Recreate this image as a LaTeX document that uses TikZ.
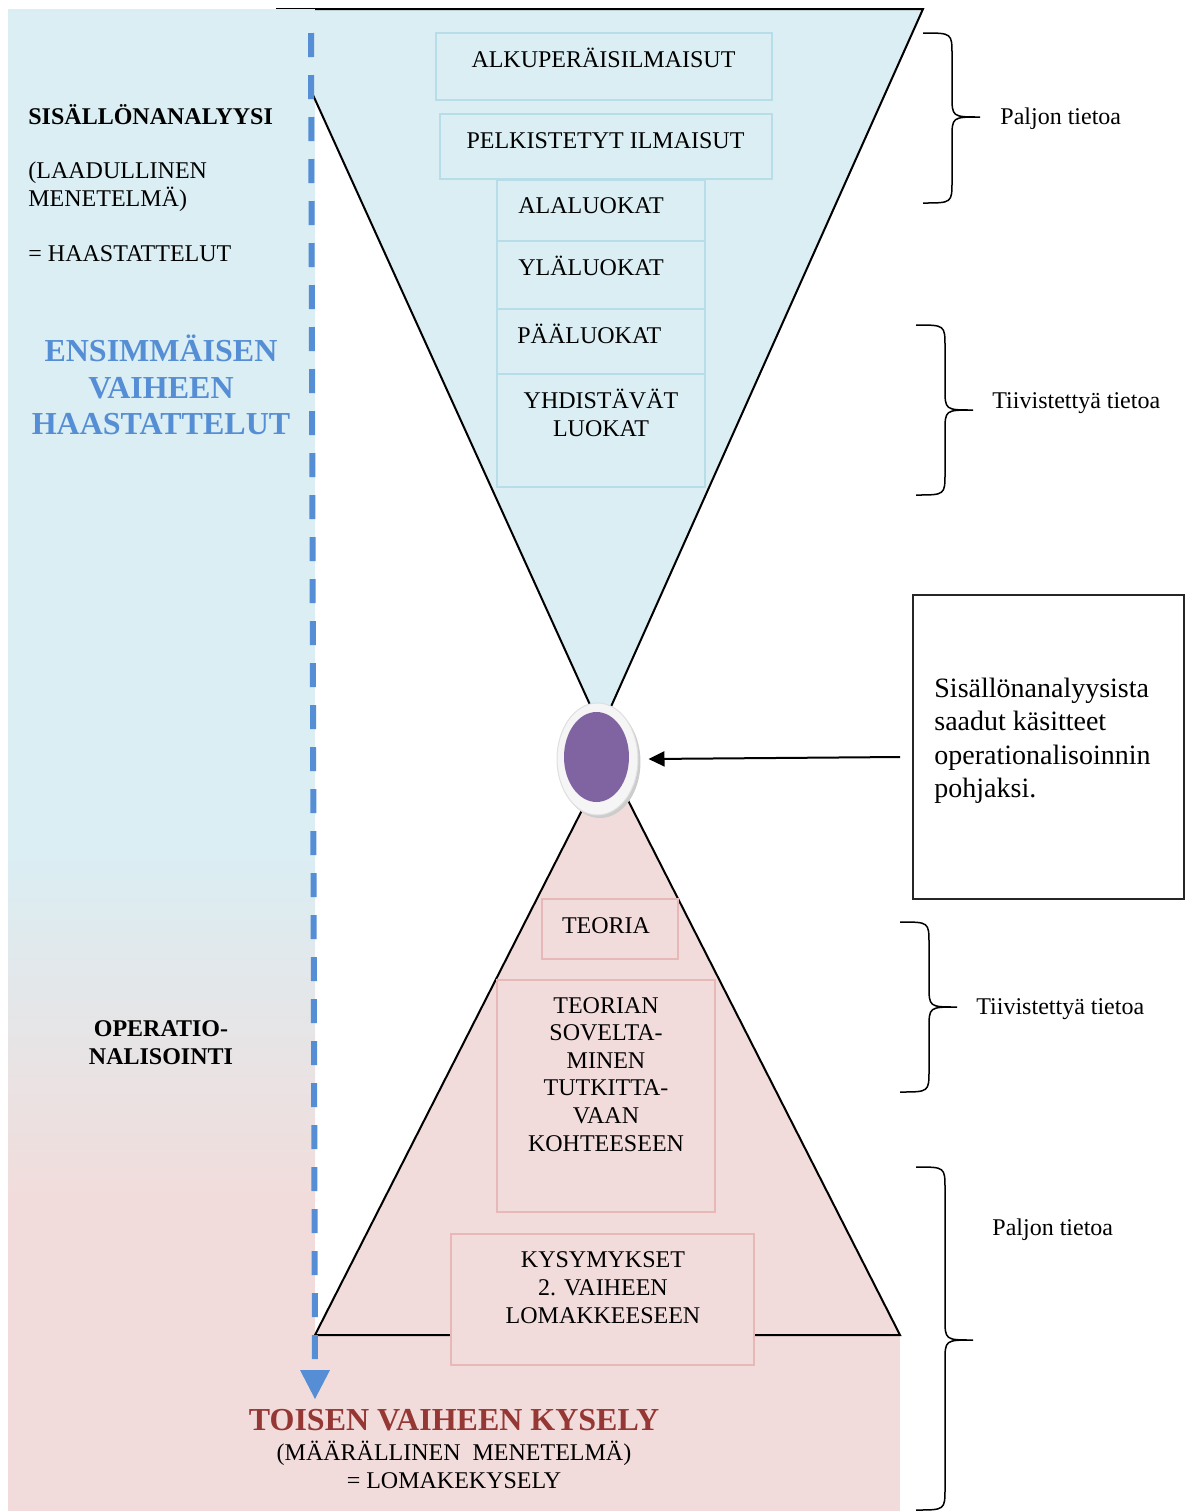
\documentclass[tikz,border=0pt]{standalone}
\usepackage{fontspec}
\setmainfont{Liberation Serif}
\usetikzlibrary{arrows.meta,shapes.geometric,fit}
\definecolor{panelblue}{HTML}{DAEEF3}
\definecolor{panelpink}{HTML}{F2DCDB}
\definecolor{boxblue}{HTML}{B7DDE8}
\definecolor{boxpink}{HTML}{E6B9B8}
\definecolor{dashblue}{HTML}{558ED5}
\definecolor{darkred}{HTML}{953735}
\definecolor{ovalpurple}{HTML}{8064A2}
\newcommand\mybrace[6]{% x0, xs, xt, top, mid, bottom
  \draw[bracestyle] (#1,#4) .. controls (#2,#4) .. (#2,#4+22) -- (#2,#5-22)
    .. controls (#2,#5) .. (#3,#5) .. controls (#2,#5) .. (#2,#5+22)
    -- (#2,#6-22) .. controls (#2,#6) .. (#1,#6);}
\begin{document}
\begin{tikzpicture}[x=0.5pt,y=-0.5pt,
  txt/.style={font=\fontsize{12}{13.8}\selectfont, inner sep=0pt},
  boldtxt/.style={font=\fontsize{12}{13.8}\selectfont\bfseries, inner sep=0pt},
  bigblue/.style={font=\fontsize{16}{18.25}\selectfont\bfseries, text=dashblue, inner sep=0pt},
  bigred/.style={font=\fontsize{16}{18.25}\selectfont\bfseries, text=darkred, inner sep=0pt},
  bbox/.style={draw=boxblue, line width=1pt, fill=panelblue, inner sep=0pt},
  pbox/.style={draw=boxpink, line width=1pt, fill=panelpink, inner sep=0pt},
  bracestyle/.style={line width=0.75pt},
  outline/.style={line width=1pt, line join=miter}]
\useasboundingbox (0,0) rectangle (1185,1511);
% left panel and bottom band
\fill[panelblue] (8,9) rectangle (315,851);
\shade[top color=panelblue,bottom color=panelpink] (8,850) rectangle (315,1201);
\fill[panelpink] (8,1200) rectangle (315,1511);
\fill[panelpink] (314,1335) rectangle (900,1511);
% upper funnel
\fill[panelblue] (313,9) -- (923,9) -- (601,729) -- (313,95) -- cycle;
\draw[line width=0.5pt] (276,8) -- (315,8);
\draw[outline] (315,9) -- (923,9) -- (601,729) -- (313,95);
% lower triangle
\fill[panelpink] (607.5,760) -- (900,1335) -- (315,1335) -- cycle;
\draw[outline] (607.5,760) -- (900,1335) -- (315,1335) -- cycle;
% dashed line with arrow head
\coordinate (dtop) at (311,33);
\coordinate (dbot) at (315,1360);
\draw[dashblue, line width=3pt, dash pattern=on 12pt off 9pt] (dtop) -- (dbot);
\fill[dashblue] (300,1370) -- (330,1370) -- (315,1399) -- cycle;
% upper boxes
\node[bbox, fit={(436,33)(772,100)}] (b1) {};
\node[bbox, fit={(440,114)(772,179)}] (b2) {};
\node[bbox, fit={(497,180)(705,241)}] (b3) {};
\node[bbox, fit={(497,241)(705,309)}] (b4) {};
\node[bbox, fit={(497,309)(705,374)}] (b5) {};
\node[bbox, fit={(497,374)(705,487)}] (b6) {};
\node[txt, anchor=base] (t1) at (603.5,67) {ALKUPERÄISILMAISUT};
\node[txt, anchor=base] (t2) at (605.5,148) {PELKISTETYT ILMAISUT};
\node[txt, anchor=base west] (t3) at (518,213) {ALALUOKAT};
\node[txt, anchor=base west] (t4) at (518,275) {YLÄLUOKAT};
\node[txt, anchor=base west] (t5) at (517,343) {PÄÄLUOKAT};
\node[txt, anchor=base, align=center] (t6) at (601,436) {YHDISTÄVÄT\\LUOKAT};
% lower boxes
\node[pbox, fit={(542,899)(678,959)}] (p1) {};
\node[pbox, fit={(497,980)(715,1212)}] (p2) {};
\node[pbox, fit={(451,1234)(754,1365)}] (p3) {};
\node[txt, anchor=base] (q1) at (606,933) {TEORIA};
\node[txt, anchor=base, align=center] (q2) at (606,1151) {TEORIAN\\SOVELTA-\\MINEN\\TUTKITTA-\\VAAN\\KOHTEESEEN};
\node[txt, anchor=base, align=center] (q3) at (603,1323) {KYSYMYKSET\\2. VAIHEEN\\LOMAKKEESEEN};
% left texts
\node[boldtxt, anchor=base west] (l1) at (28,124) {SISÄLLÖNANALYYSI};
\node[txt, anchor=base west, align=left] (l2) at (28,206) {(LAADULLINEN\\MENETELMÄ)};
\node[txt, anchor=base west] (l3) at (28,261) {= HAASTATTELUT};
\node[bigblue, anchor=base, align=center] (l4) at (161,434.5) {ENSIMMÄISEN\\VAIHEEN\\HAASTATTELUT};
\node[boldtxt, anchor=base, align=center] (l5) at (161,1064) {OPERATIO-\\NALISOINTI};
% bottom texts
\node[bigred, anchor=base] (k1) at (454,1430.5) {TOISEN VAIHEEN KYSELY};
\node[txt, anchor=base, align=center] (k2) at (454,1488) {(MÄÄRÄLLINEN\ \ MENETELMÄ)\\= LOMAKEKYSELY};
% oval
\fill[gray!40] (600,762) ellipse [x radius=20.25pt, y radius=28pt];
\node[ellipse, fill=gray!8, draw=gray!25, line width=0.5pt, minimum width=40.5pt, minimum height=56pt, inner sep=0pt] (circ) at (597.5,759) {};
\node[ellipse, fill=ovalpurple, minimum width=32.5pt, minimum height=45pt, inner sep=0pt] (oval) at (596.5,757) {};
% right box
\node[draw=black!85, line width=0.75pt, fit={(913,595)(1184,899)}, inner sep=0pt] (rbox) {};
\node[font=\fontsize{14}{16.75}\selectfont, inner sep=0pt, align=left, anchor=base west] (rtext) at (934,797.5) {Sisällönanalyysista\\saadut käsitteet\\operationalisoinnin\\pohjaksi.};
\coordinate (astart) at (900,757);
\draw[line width=1pt, -{Triangle[length=8pt,width=7.5pt]}] (astart) -- ([xshift=5pt]circ.east);
% braces
\mybrace{923}{952}{980}{33}{117}{203}
\mybrace{916}{945}{973}{325}{410}{495}
\mybrace{900}{929}{957}{922}{1007}{1092}
\mybrace{916}{945}{973}{1167}{1340}{1510}
\node[txt, anchor=base west] (r1) at (1000,124) {Paljon tietoa};
\node[txt, anchor=base west] (r2) at (992,408) {Tiivistettyä tietoa};
\node[txt, anchor=base west] (r3) at (976,1014) {Tiivistettyä tietoa};
\node[txt, anchor=base west] (r4) at (992,1235) {Paljon tietoa};
\end{tikzpicture}
\end{document}
